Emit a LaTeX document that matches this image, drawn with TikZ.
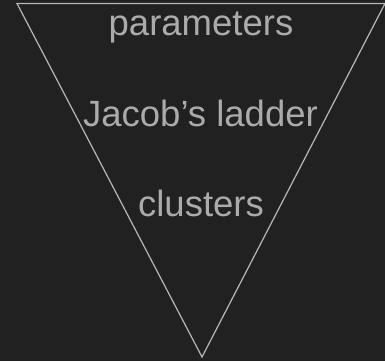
\documentclass[tikz,border=0pt]{standalone}
\usepackage{fontspec}
\setmainfont{Liberation Sans}
\usepackage{xcolor}
\definecolor{bgdark}{HTML}{212121}
\definecolor{edgegray}{HTML}{B8B8B8}
\definecolor{labelgray}{HTML}{ABABAB}

\begin{document}
\begin{tikzpicture}[
  x=1pt, y=-1pt,
  level/.style={anchor=base, text=labelgray, inner sep=0pt,
                font=\fontsize{36.5}{44}\selectfont},
  edge/.style={draw=edgegray, line width=1.2pt, line join=miter}
]
  \fill[bgdark] (0,0) rectangle (385,361);
  \useasboundingbox (0,0) rectangle (385,361);

  \coordinate (tl) at (17,3.5);
  \coordinate (tr) at (385,3.5);
  \coordinate (apex) at (202,357);
  \draw[edge] (tl) -- (tr) -- (apex) -- cycle;

  \node[level] (params) at (201,36) {parameters};
  \node[level] (ladder) at (200.5,126) {Jacob’s ladder};
  \node[level] (clusters) at (201,216) {clusters};
\end{tikzpicture}
\end{document}
